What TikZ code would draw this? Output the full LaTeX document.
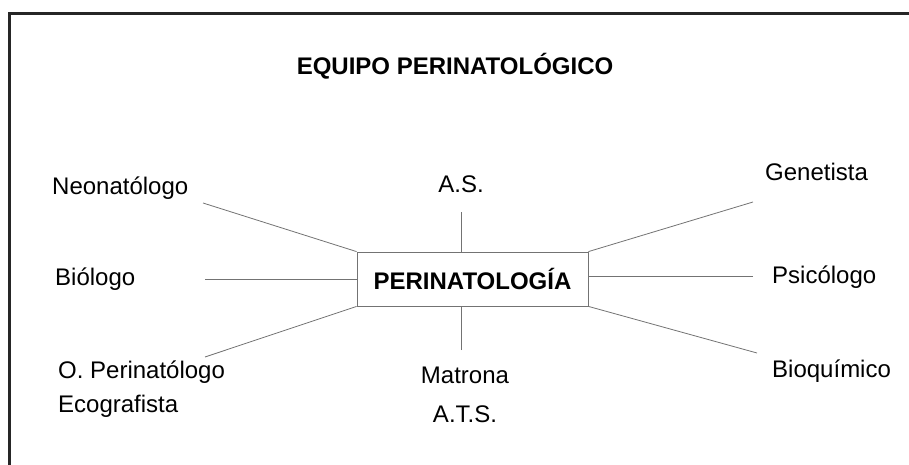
\documentclass[tikz,border=0pt]{standalone}
\usepackage{fontspec}
\setmainfont{Liberation Sans}
\usetikzlibrary{positioning}

\begin{document}
\begin{tikzpicture}[x=1pt, y=-1pt,
    every node/.style={font=\fontsize{24}{36}\selectfont, inner sep=0pt},
    head/.style={font=\fontsize{24}{28}\selectfont\bfseries},
    link/.style={draw=black!55, line width=0.8pt}]
    \useasboundingbox (0,0) rectangle (909,465);
    % frame (open at right and bottom)
    \draw[line width=3pt, black!85] (9,465) -- (9,14) -- (909,14);
    \node[head, anchor=base] (title) at (455,75) {EQUIPO PERINATOLÓGICO};
    \node[head, link, minimum width=231pt, minimum height=54pt] (peri) at (472.5,279) {PERINATOLOGÍA};
    % labels
    \node[anchor=base west] (neo) at (52,194) {Neonatólogo};
    \node[anchor=base west] (bio) at (55,285) {Biólogo};
    \node[anchor=base west, align=left, font=\fontsize{24}{34}\selectfont] (obs) at (58,412) {O. Perinatólogo\\Ecografista};
    \node[anchor=base] (as) at (461,192) {A.S.};
    \node[anchor=base, align=center, font=\fontsize{24}{39}\selectfont] (mat) at (465,422) {Matrona\\A.T.S.};
    \node[anchor=base west] (gen) at (765,180) {Genetista};
    \node[anchor=base west] (psi) at (772,283) {Psicólogo};
    \node[anchor=base west] (bq) at (772,377) {Bioquímico};
    % free ends of the links
    \coordinate (Eneo) at (203,203);
    \coordinate (Ebio) at (205,279);
    \coordinate (Eobs) at (205,357);
    \coordinate (Eas) at (461,212);
    \coordinate (Emat) at (461,350);
    \coordinate (Egen) at (753,202);
    \coordinate (Epsi) at (753,276);
    \coordinate (Ebq) at (757,353);
    \draw[link] (Eneo) -- (peri.north west);
    \draw[link] (Ebio) -- (peri.west);
    \draw[link] (Eobs) -- (peri.south west);
    \draw[link] (Eas) -- (Eas |- peri.north);
    \draw[link] (Emat) -- (Emat |- peri.south);
    \draw[link] (Egen) -- (peri.north east);
    \draw[link] (Epsi) -- (Epsi -| peri.east);
    \draw[link] (Ebq) -- (peri.south east);
\end{tikzpicture}
\end{document}
